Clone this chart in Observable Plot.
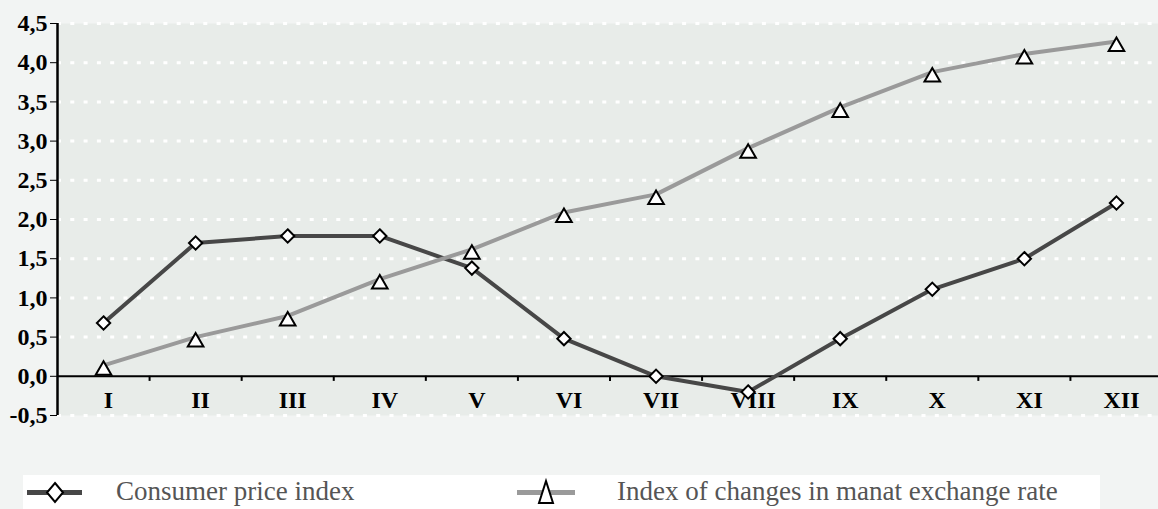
<!DOCTYPE html>
<html>
<head>
<meta charset="utf-8">
<script src="https://cdn.jsdelivr.net/npm/d3@7"></script>
<script src="https://cdn.jsdelivr.net/npm/@observablehq/plot@0.6"></script>
<style>
  html, body { margin: 0; padding: 0; background: #f2f4f3; }
  body { width: 1158px; height: 509px; overflow: hidden; font-family: "Liberation Serif", "Times New Roman", Times, serif; }
  #chart svg { background: transparent; display: block; }
  #legend { position: relative; width: 1158px; height: 39px; }
  #legend .box { position: absolute; left: 23px; top: 5px; width: 1077px; height: 34px; background: #ffffff; }
  #legend svg { position: absolute; left: 0; top: 0; }
  #legend .lbl { position: absolute; top: 8px; font-family: "Liberation Serif", "Times New Roman", Times, serif; font-size: 27px; line-height: 26px; color: #555555; white-space: nowrap; }
</style>
</head>
<body>
<div id="chart"></div>
<div id="legend">
  <div class="box"></div>
  <svg width="1158" height="39">
    <line x1="27" x2="82" y1="22.5" y2="22.5" stroke="#474747" stroke-width="5"/>
    <polygon points="55,13 63,22.5 55,32 47,22.5" fill="#ffffff" stroke="#000" stroke-width="2"/>
    <line x1="517" x2="575" y1="22.5" y2="22.5" stroke="#9a9a9a" stroke-width="5"/>
    <polygon points="546,11 553,33 539,33" fill="#ffffff" stroke="#000" stroke-width="2"/>
  </svg>
  <span class="lbl" style="left:116px">Consumer price index</span>
  <span class="lbl" style="left:617px">Index of changes in manat exchange rate</span>
</div>
<script>
const months = ["I", "II", "III", "IV", "V", "VI", "VII", "VIII", "IX", "X", "XI", "XII"];
const cpi = [0.68, 1.70, 1.79, 1.79, 1.38, 0.48, 0.0, -0.20, 0.48, 1.11, 1.50, 2.21];
const exchange = [0.14, 0.50, 0.77, 1.24, 1.62, 2.09, 2.32, 2.91, 3.43, 3.88, 4.11, 4.27];
const yTicks = [-0.5, 0, 0.5, 1.0, 1.5, 2.0, 2.5, 3.0, 3.5, 4.0, 4.5];

const cpiData = months.map((m, i) => ({m: i + 1, v: cpi[i]}));
const exData = months.map((m, i) => ({m: i + 1, v: exchange[i]}));
const boundaries = months.slice(1).map((m, i) => i + 1.5);
const font = '"Liberation Serif", "Times New Roman", Times, serif';

const chart = Plot.plot({
  width: 1158,
  height: 470,
  marginLeft: 57,
  marginRight: 0,
  marginTop: 23,
  marginBottom: 55,
  style: {background: "transparent", color: "#000", fontFamily: font},
  x: {type: "linear", domain: [0.5, 12.5], range: [57, 1162], axis: null},
  y: {domain: [-0.5, 4.5], axis: null},
  marks: [
    Plot.frame({fill: "#e8ece9", stroke: "none"}),
    Plot.ruleY(yTicks.filter(v => v !== 0), {stroke: "#ffffff", strokeWidth: 3, strokeDasharray: "4,9.3"}),
    Plot.ruleY([0], {stroke: "#000", strokeWidth: 2}),
    Plot.ruleX(boundaries, {y1: 0, y2: -0.065, stroke: "#000", strokeWidth: 2}),
    Plot.ruleX([0.5], {stroke: "#000", strokeWidth: 2.5}),
    Plot.axisY({ticks: yTicks, label: null, tickSize: 7, tickPadding: 3, tickFormat: d => d.toFixed(1).replace(".", ","),
      fontSize: 24, fontWeight: "bold", fontFamily: font, stroke: "#000"}),
    Plot.text(months, {x: (d, i) => i + 1, y: 0, text: d => d, dy: 24, dx: 5, fontSize: 24, fontWeight: "bold", fontFamily: font, fill: "#000"}),
    Plot.line(cpiData, {x: "m", y: "v", stroke: "#474747", strokeWidth: 4}),
    Plot.dot(cpiData, {x: "m", y: "v", symbol: "diamond2", r: 6, fill: "#ffffff", stroke: "#000", strokeWidth: 2}),
    Plot.line(exData, {x: "m", y: "v", stroke: "#9a9a9a", strokeWidth: 4}),
    Plot.dot(exData, {x: "m", y: "v", symbol: "triangle", r: 5.8, dy: 5, fill: "#ffffff", stroke: "#000", strokeWidth: 2})
  ]
});
document.getElementById("chart").appendChild(chart);
</script>
</body>
</html>
